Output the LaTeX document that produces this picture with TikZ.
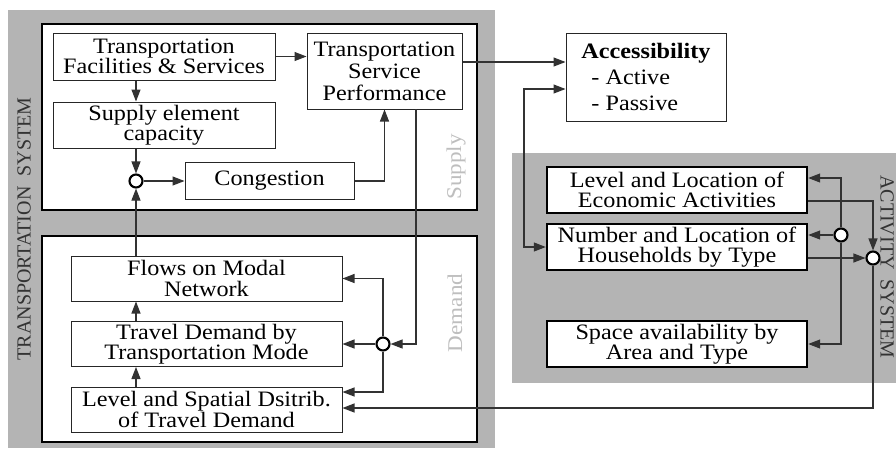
\documentclass[tikz,border=0pt]{standalone}
\usepackage{fontspec}
\setmainfont{Liberation Serif}[FakeStretch=1.1]
\newfontfamily\plainserif{Liberation Serif}
\usetikzlibrary{arrows.meta,calc}
\definecolor{bggray}{RGB}{180,180,180}
\definecolor{linegray}{RGB}{50,50,50}
\definecolor{labgray}{RGB}{190,190,190}
\tikzset{
  txt/.style={font=\fontsize{22}{20.5}\selectfont},
  thinbox/.style={draw=black!85, line width=1pt, fill=white, inner sep=1pt, align=center, txt},
  thickbox/.style={draw=black, line width=2.4pt, fill=white, inner sep=1pt, align=center, txt},
  junction/.style={circle, draw=black, line width=2.1pt, fill=white, minimum size=13pt, inner sep=0pt},
  conn/.style={draw=linegray, line width=1.1pt, -{Triangle[length=12pt,width=9pt]}},
  container/.style={draw=black, line width=2.6pt, fill=white},
  syslabel/.style={font=\plainserif\fontsize{20}{20}\selectfont, text=black!80},
  sublabel/.style={font=\fontsize{21}{21}\selectfont, text=labgray}
}
\begin{document}
\begin{tikzpicture}[x=1pt,y=-1pt]
\useasboundingbox (0,0) rectangle (896,453);
% backgrounds
\fill[bggray] (8,10) rectangle (495,448);
\fill[bggray] (512,153) rectangle (896,383);
\draw[container] (42,24) rectangle (477,210);
\draw[container] (42,236) rectangle (477,442);

% labels
\node[syslabel, rotate=90] (tslab) at (24,229) {TRANSPORTATION\ \ SYSTEM};
\node[syslabel, rotate=-90] (aslab) at (887,267) {ACTIVITY\ \ SYSTEM};
\node[sublabel, rotate=90] (suplab) at (456,167) {Supply};
\node[sublabel, rotate=90] (demlab) at (455,313) {Demand};

% supply nodes
\node[thinbox, minimum width=222pt, minimum height=47pt] (tfs) at (164,56.5) {Transportation\\Facilities \& Services};
\node[thinbox, minimum width=222pt, minimum height=46pt] (sec) at (164,125) {Supply element\\capacity};
\node[thinbox, minimum width=155pt, minimum height=76pt, font=\fontsize{22}{22}\selectfont] (tsp) at (384.5,71) {Transportation\\Service\\Performance};
\node[thinbox, minimum width=169pt, minimum height=37pt] (cong) at (269.5,181) {Congestion};
\node[junction] (c1) at (136,181) {};

% demand nodes
\node[thinbox, minimum width=271pt, minimum height=45pt] (flows) at (206.5,278.5) {Flows on Modal\\Network};
\node[thinbox, minimum width=271pt, minimum height=45pt] (tdm) at (206.5,344) {Travel Demand by\\Transportation Mode};
\node[thinbox, minimum width=271pt, minimum height=45pt] (lsd) at (206.5,409.5) {Level and Spatial Dsitrib.\\of Travel Demand};
\node[junction] (c2) at (383,344) {};

% accessibility
\node[thinbox, minimum width=160pt, minimum height=88pt, align=left, font=\fontsize{22}{26}\selectfont] (acc) at (646,77)
  {\textbf{Accessibility}\\\hspace*{10pt}- Active\\\hspace*{10pt}- Passive};

% activity nodes
\node[thickbox, minimum width=260pt, minimum height=46pt] (econ) at (677,190) {Level and Location of\\Economic Activities};
\node[thickbox, minimum width=260pt, minimum height=46pt] (hh) at (677,247) {Number and Location of\\Households by Type};
\node[thickbox, minimum width=260pt, minimum height=46pt] (space) at (677,344) {Space availability by\\Area and Type};
\node[junction] (c3) at (841,235) {};
\node[junction] (c4) at (873,258) {};
\coordinate (bend) at (524,89);
\coordinate (drop) at (416,109);

% supply connectors
\draw[conn] (tfs.east) -- (tfs.east -| tsp.west);
\draw[conn] (tfs.south -| c1) -- (sec.north -| c1);
\draw[conn] (sec.south -| c1) -- (c1);
\draw[conn] (c1) -- (c1 -| cong.west);
\draw[conn] (cong.east) -| (tsp.south);
\draw[conn] (flows.north -| c1) -- (c1);

% demand connectors
\draw[conn] (tdm.north -| c1) -- (flows.south -| c1);
\draw[conn] (lsd.north -| c1) -- (tdm.south -| c1);
\draw[conn] (drop) |- (c2);
\draw[conn] (c2) -- (c2 -| tdm.east);
\draw[conn] (c2) |- (flows.east);
\draw[conn] (c2) |- ([yshift=17.5pt]lsd.east);

% accessibility connectors
\draw[conn] ([yshift=9pt]tsp.east) -- ([yshift=9pt]tsp.east -| acc.west);
\draw[conn, {Triangle[length=12pt,width=9pt]}-{Triangle[length=12pt,width=9pt]}] (acc.west |- bend) -- (bend) |- (hh.west);

% activity connectors
\draw[conn] (c3) |- ([yshift=12pt]econ.east);
\draw[conn] (c3) -- (c3 -| hh.east);
\draw[conn] (c3) |- (space.east);
\draw[conn] ([yshift=-11pt]econ.east) -| (c4);
\draw[conn] ([yshift=-11pt]hh.east) -- (c4);
\draw[conn] (c4) |- ([yshift=1.5pt]lsd.east);
\end{tikzpicture}
\end{document}
